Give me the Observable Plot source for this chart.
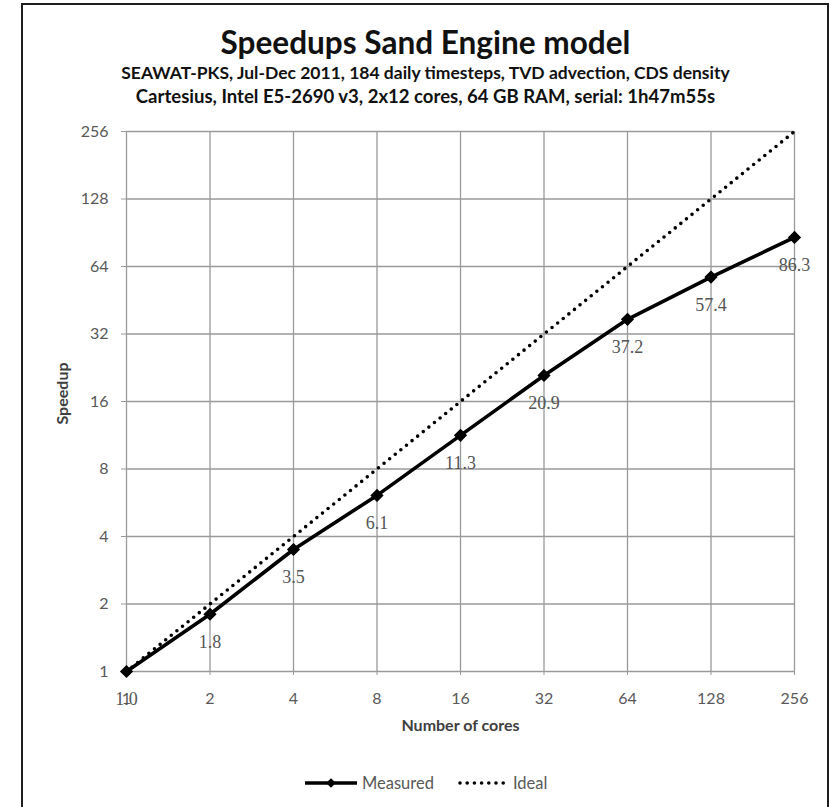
<!DOCTYPE html>
<html>
<head>
<meta charset="utf-8">
<script src="https://cdn.jsdelivr.net/npm/d3@7"></script>
<script src="https://cdn.jsdelivr.net/npm/@observablehq/plot@0.6"></script>
<style>
  body { margin: 0; background: #fff; width: 831px; height: 807px; overflow: hidden; position: relative; font-family: Lato, "Open Sans", sans-serif; }
  #frame { position: absolute; left: 21px; top: 3px; width: 804px; height: 900px; border: 2px solid #1e1e1e; }
  .hdr { position: absolute; left: 23px; width: 805px; text-align: center; color: #111; font-weight: bold; white-space: nowrap; }
  #title { top: 22px; font-size: 29px; line-height: 40px; }
  #sub1 { top: 62px; font-size: 13px; line-height: 22px; }
  #sub2 { top: 85px; font-size: 13px; line-height: 22px; }
  #chart { position: absolute; left: 0; top: 110px; }
  #legend { position: absolute; left: 290px; top: 770px; }
</style>
</head>
<body>
<div id="frame"></div>
<div class="hdr" id="title">Speedups Sand Engine model</div>
<div class="hdr" id="sub1">SEAWAT-PKS, Jul-Dec 2011, 184 daily timesteps, TVD advection, CDS density</div>
<div class="hdr" id="sub2">Cartesius, Intel E5-2690 v3, 2x12 cores, 64 GB RAM, serial: 1h47m55s</div>
<div id="chart"></div>
<div id="legend"></div>
<script>
// ---- data ----
const cores = [1, 2, 4, 8, 16, 32, 64, 128, 256];
const measured = [1.0, 1.8, 3.5, 6.1, 11.3, 20.9, 37.2, 57.4, 86.3];
const measuredLabels = ["1.0", "1.8", "3.5", "6.1", "11.3", "20.9", "37.2", "57.4", "86.3"];
const ideal = [1, 2, 4, 8, 16, 32, 64, 128, 256];
const tickValues = [1, 2, 4, 8, 16, 32, 64, 128, 256];
const seriesNames = ["Measured", "Ideal"];

// fit header text widths (target widths)
function fit(id, target) {
  const el = document.getElementById(id);
  const cs = getComputedStyle(el);
  const c = document.createElement("canvas").getContext("2d");
  c.font = `${cs.fontWeight} ${cs.fontSize} ${cs.fontFamily}`;
  const w = c.measureText(el.textContent).width;
  el.style.fontSize = (parseFloat(cs.fontSize) * target / w) + "px";
}
fit("title", 410);
fit("sub1", 610);
fit("sub2", 580);

const measuredData = cores.map((c, i) => ({cores: c, speedup: measured[i], label: measuredLabels[i]}));
const idealData = cores.map((c, i) => ({cores: c, speedup: ideal[i]}));

const gridColor = "#9a9a9a";
const chart = Plot.plot({
  width: 831,
  height: 650,
  marginLeft: 126,
  marginRight: 37,
  marginTop: 21,
  marginBottom: 89,
  style: {fontFamily: "Lato, sans-serif", fontSize: "16px", color: "#595959", background: "transparent"},
  x: {type: "log", base: 2, domain: [1, 256], ticks: tickValues, tickFormat: d => String(d)},
  y: {type: "log", base: 2, domain: [1, 256], ticks: tickValues, tickFormat: d => String(d)},
  marks: [
    Plot.gridX(tickValues, {stroke: gridColor, strokeOpacity: 1, strokeWidth: 1.3}),
    Plot.gridY(tickValues, {stroke: gridColor, strokeOpacity: 1, strokeWidth: 1.3}),
    Plot.axisX(tickValues, {tickSize: 4, tickPadding: 17, stroke: gridColor, fill: "#595959", label: null, fontSize: 16}),
    Plot.axisY(tickValues, {tickSize: 5, tickPadding: 13, stroke: gridColor, fill: "#595959", label: null, fontSize: 16}),
    Plot.line(idealData, {x: "cores", y: "speedup", stroke: "#000", strokeWidth: 3.6, strokeDasharray: "0,7.2", strokeLinecap: "round"}),
    Plot.line(measuredData, {x: "cores", y: "speedup", stroke: "#000", strokeWidth: 3.6}),
    Plot.dot(measuredData, {x: "cores", y: "speedup", symbol: "diamond2", r: 5, fill: "#000", stroke: "#000"}),
    Plot.text(measuredData, {x: "cores", y: "speedup", text: "label", dy: 28, fill: "#555", fontSize: 18, fontFamily: "'Liberation Serif', serif"}),
    Plot.text(["Number of cores"], {frameAnchor: "bottom", dy: 59, fontWeight: "bold", fontSize: 16, fill: "#404040"}),
    Plot.text(["Speedup"], {frameAnchor: "left", textAnchor: "middle", dx: -64, dy: -8, rotate: -90, fontWeight: "bold", fontSize: 16, fill: "#404040"})
  ]
});
document.getElementById("chart").appendChild(chart);

// legend
const lg = d3.select("#legend").append("svg").attr("width", 300).attr("height", 26)
  .style("font-family", "Lato, sans-serif").style("font-size", "16.5px");
lg.append("line").attr("x1", 15).attr("x2", 67).attr("y1", 13).attr("y2", 13).attr("stroke", "#000").attr("stroke-width", 3.6);
lg.append("path").attr("d", d3.symbol(d3.symbolDiamond2, 60)()).attr("transform", "translate(41,13)").attr("fill", "#000");
lg.append("text").attr("x", 72).attr("y", 13).attr("dy", "0.35em").attr("fill", "#595959").text(seriesNames[0]);
lg.append("line").attr("x1", 170).attr("x2", 218).attr("y1", 13).attr("y2", 13).attr("stroke", "#000").attr("stroke-width", 3.6)
  .attr("stroke-dasharray", "0,7.2").attr("stroke-linecap", "round");
lg.append("text").attr("x", 223).attr("y", 13).attr("dy", "0.35em").attr("fill", "#595959").text(seriesNames[1]);
</script>
</body>
</html>
